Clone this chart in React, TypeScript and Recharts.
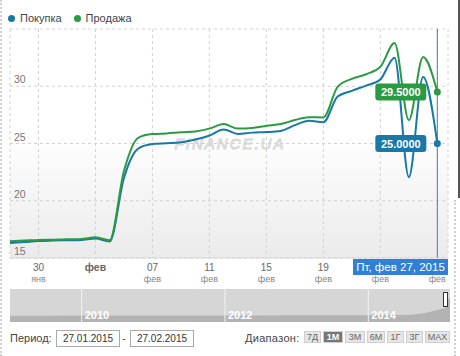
import { Area, AreaChart, CartesianGrid, Line, LineChart, ReferenceLine, XAxis, YAxis } from "recharts";

const days = [
  "28.01", "29.01", "30.01", "31.01", "01.02", "02.02", "03.02", "04.02", "05.02", "06.02",
  "07.02", "08.02", "09.02", "10.02", "11.02", "12.02", "13.02", "14.02", "15.02", "16.02",
  "17.02", "18.02", "19.02", "20.02", "21.02", "22.02", "23.02", "24.02", "25.02", "26.02", "27.02",
];
const buyValues = [
  16.32, 16.4, 16.48, 16.52, 16.55, 16.58, 16.7, 16.45, 22.0, 24.55,
  24.95, 25.02, 25.1, 25.35, 25.7, 26.23, 25.83, 25.95, 26.0, 26.1,
  26.6, 26.98, 26.85, 29.1, 29.6, 30.05, 30.6, 32.5, 22.06, 30.8, 25.0,
];
const sellValues = [
  16.46, 16.52, 16.58, 16.6, 16.63, 16.66, 16.81, 16.55, 22.6, 25.5,
  25.82, 25.88, 25.98, 26.05, 26.3, 26.7, 26.3, 26.35, 26.55, 26.7,
  27.05, 27.3, 27.28, 29.95, 30.65, 31.05, 31.7, 33.77, 27.04, 32.55, 29.5,
];
const xTicks = [2, 6, 10, 14, 18, 22, 26, 30];
const xTickDay = ["30", "фев", "07", "11", "15", "19", "23", "27"];
const xTickMonth = ["янв", "", "фев", "фев", "фев", "фев", "фев", "фев"];
const yTicks = [15, 20, 25, 30, 35];

const navYears = [2009.0, 2009.5, 2010.0, 2010.5, 2011.0, 2011.5, 2012.0, 2012.5, 2013.0, 2013.5, 2014.0, 2014.3, 2014.6, 2014.8, 2015.0, 2015.07, 2015.1, 2015.14];
const navValues = [7.6, 7.7, 7.9, 7.9, 7.95, 7.97, 8.0, 8.0, 8.05, 8.1, 8.2, 8.4, 8.8, 11.0, 15.5, 16.3, 26.0, 29.5];
const navYearLabels = [2010, 2012, 2014];
const ranges = ["7Д", "1М", "3М", "6М", "1Г", "3Г", "МАХ"];
const rangeWidths = [17, 20, 20, 18, 17, 17, 25];

const FONT = "'Liberation Sans', Arial, sans-serif";
const BLUE = "#1878a8";
const GREEN = "#2b9b43";

const rows = days.map((d, i) => ({ day: i, date: d, buy: buyValues[i], sell: sellValues[i] }));
const navRows = navYears.map((y, i) => ({ year: y, value: navValues[i] }));

function XTick(props: any) {
  const { x, y, payload } = props;
  const i = xTicks.indexOf(payload.value);
  const month = xTickMonth[i];
  return (
    <g fontFamily={FONT}>
      <text x={x} y={y + 11} textAnchor="middle" fontSize={month ? 10 : 10.5} fontWeight={month ? 400 : 700} fill="#666">
        {xTickDay[i]}
      </text>
      {month && (
        <text x={x} y={y + 21.5} textAnchor="middle" fontSize={9} fill="#888">
          {month}
        </text>
      )}
    </g>
  );
}

function YTick(props: any) {
  const { y, payload } = props;
  if (payload.value === 35) return <g />;
  return (
    <text x={14} y={y - 3} fontSize={10.5} fill="#777" fontFamily={FONT}>
      {payload.value}
    </text>
  );
}

function endDot(color: string) {
  return (props: any) => {
    const { cx, cy, index, value } = props;
    if (index !== rows.length - 1) return <g key={index} />;
    return (
      <g key={index}>
        <circle cx={cx} cy={cy} r={3.5} fill={color} />
        <rect x={cx - 62} y={cy - 8.5} width={51} height={17} rx={3} fill={color} />
        <text x={cx - 36.5} y={cy + 4} textAnchor="middle" fontSize={11} fontWeight={700} fill="#fff" fontFamily={FONT}>
          {Number(value).toFixed(4)}
        </text>
      </g>
    );
  };
}

const legendItems = [
  { name: "Покупка", color: BLUE },
  { name: "Продажа", color: GREEN },
];

export default function App() {
  return (
    <div style={{ position: "absolute", left: 0, top: 0, width: 460, height: 356, background: "#fff", fontFamily: FONT, overflow: "hidden" }}>
      <div style={{ position: "absolute", left: 0, top: 0, width: 0, height: 356, borderLeft: "2px dotted #d0d0d0" }} />
      <div style={{ position: "absolute", left: 454, top: 200, width: 0, height: 156, borderLeft: "2px dotted #d0d0d0" }} />
      <div style={{ position: "absolute", left: 458, top: 0, width: 2, height: 198, background: "#555" }} />

      <div style={{ position: "absolute", left: 8, top: 12, display: "flex", gap: 12, fontSize: 11, color: "#444" }}>
        {legendItems.map((it) => (
          <div key={it.name} style={{ display: "flex", alignItems: "center" }}>
            <span style={{ width: 7, height: 7, borderRadius: 4, background: it.color, marginRight: 5 }} />
            {it.name}
          </div>
        ))}
      </div>

      {/* plot background gradient */}
      <div style={{ position: "absolute", left: 10, top: 29, width: 438, height: 229, background: "linear-gradient(#fff 0%, #fff 45%, #ebebeb 100%)" }} />

      <LineChart
        width={460}
        height={290}
        data={rows}
        margin={{ top: 29, right: 12, bottom: 2, left: 10 }}
        style={{ position: "absolute", left: 0, top: 0 }}
      >
        <CartesianGrid stroke="#d2d2d2" strokeDasharray="3 3" />
        <XAxis
          dataKey="day"
          type="number"
          domain={[0, 30.75]}
          ticks={xTicks}
          interval={0}
          height={30}
          tickSize={0}
          tickLine={false}
          axisLine={{ stroke: "#d8d8d8" }}
          tick={<XTick />}
          allowDataOverflow
        />
        <YAxis
          type="number"
          domain={[15, 35]}
          ticks={yTicks}
          interval={0}
          mirror
          tickSize={0}
          axisLine={false}
          tickLine={false}
          tick={<YTick />}
          allowDataOverflow
        />
        <text x={230} y={149} textAnchor="middle" fontSize={15} fontStyle="italic" letterSpacing={2} fill="none" stroke="#d4d4d4" strokeWidth={0.9} fontFamily={FONT}>
          FINANCE.UA
        </text>
        <ReferenceLine x={30} stroke="#3b7fcf" strokeWidth={1} />
        <Line type="monotone" dataKey="buy" stroke={BLUE} strokeWidth={2} dot={endDot(BLUE)} activeDot={false} isAnimationActive={false} />
        <Line type="monotone" dataKey="sell" stroke={GREEN} strokeWidth={2} dot={endDot(GREEN)} activeDot={false} isAnimationActive={false} />
      </LineChart>

      <div style={{ position: "absolute", left: 353, top: 259, width: 95, height: 16, background: "#2f80d6", color: "#fff", fontSize: 11.5, lineHeight: "16px", textAlign: "center", whiteSpace: "nowrap" }}>
        Пт, фев 27, 2015
      </div>

      <AreaChart
        width={440}
        height={33}
        data={navRows}
        margin={{ top: 0, right: 0, bottom: 0, left: 0 }}
        style={{ position: "absolute", left: 10, top: 289, background: "#d6d6d6" }}
      >
        <XAxis dataKey="year" type="number" domain={[2009, 2015.14]} hide allowDataOverflow />
        <YAxis type="number" domain={[0, 40]} hide />
        <Area type="linear" dataKey="value" stroke="none" fill="#b3b3b3" fillOpacity={1} isAnimationActive={false} />
        {navYearLabels.map((y) => (
          <ReferenceLine
            key={y}
            x={y}
            stroke="#f2f2f2"
            strokeWidth={1}
            label={{ value: String(y), position: "insideBottomLeft", fill: "#fff", fontSize: 11, fontWeight: 700, offset: 3 }}
          />
        ))}
      </AreaChart>
      <div style={{ position: "absolute", left: 443, top: 292, width: 5, height: 15, background: "#fff", border: "1px solid #333", boxSizing: "border-box" }} />

      <div style={{ position: "absolute", left: 10, top: 330, fontSize: 11, color: "#444", lineHeight: "16px" }}>Период:</div>
      <div style={{ position: "absolute", left: 56, top: 330, width: 62, height: 15, border: "1px solid #aaa", fontSize: 10, color: "#333", lineHeight: "15px", textAlign: "center" }}>27.01.2015</div>
      <div style={{ position: "absolute", left: 122, top: 330, fontSize: 11, color: "#444", lineHeight: "16px" }}>-</div>
      <div style={{ position: "absolute", left: 130, top: 330, width: 62, height: 15, border: "1px solid #aaa", fontSize: 10, color: "#333", lineHeight: "15px", textAlign: "center" }}>27.02.2015</div>
      <div style={{ position: "absolute", left: 245, top: 330, fontSize: 11, color: "#444", lineHeight: "16px", letterSpacing: 0.3 }}>Диапазон:</div>
      <div style={{ position: "absolute", left: 304, top: 331, display: "flex", gap: 2 }}>
        {ranges.map((r, i) => (
          <div
            key={r}
            style={{
              width: rangeWidths[i],
              height: 12,
              boxSizing: "border-box",
              background: r === "1М" ? "#777" : "#e6e6e6",
              border: "1px solid #cfcfcf",
              color: r === "1М" ? "#fff" : "#666",
              fontSize: 9,
              lineHeight: "10px",
              textAlign: "center",
              fontWeight: r === "1М" ? 700 : 400,
              whiteSpace: "nowrap",
            }}
          >
            {r}
          </div>
        ))}
      </div>
    </div>
  );
}
